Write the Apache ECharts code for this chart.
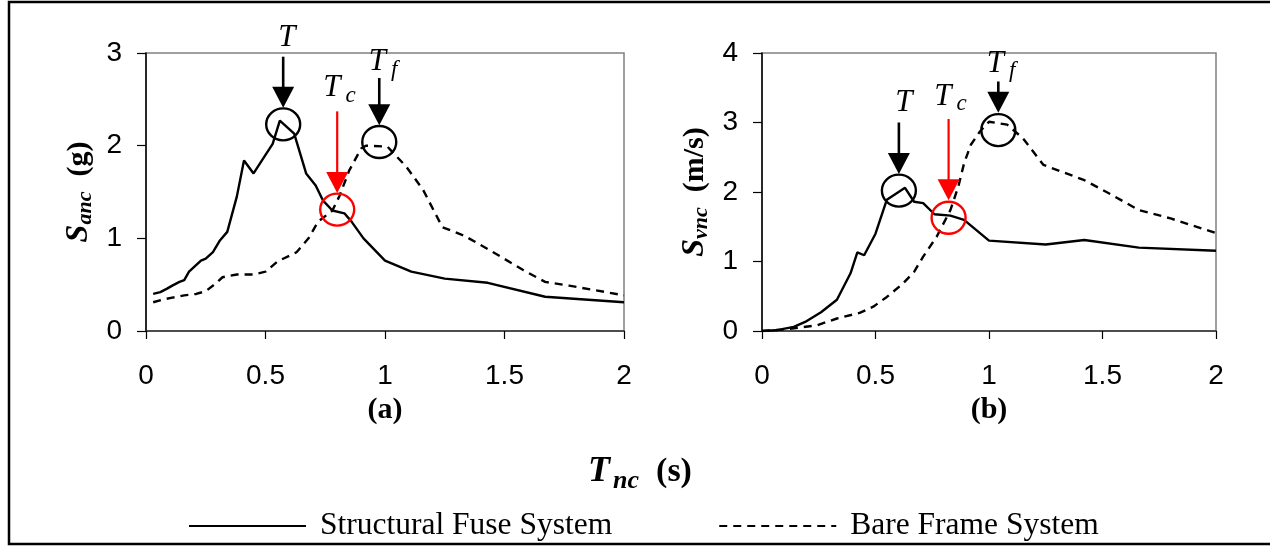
<!DOCTYPE html>
<html>
<head>
<meta charset="utf-8">
<title>Structural fuse vs bare frame spectra</title>
<script src="https://cdn.jsdelivr.net/npm/echarts@6/dist/echarts.min.js"></script>
<style>
  html, body { margin: 0; padding: 0; background: #fff; }
  #chart { width: 1270px; height: 546px; }
</style>
</head>
<body>
<div id="chart"></div>
<script>
// (a) acceleration spectrum, Sanc (g) vs Tnc (s)
var fuseAX = [0.03, 0.06, 0.09, 0.11, 0.14, 0.16, 0.18, 0.23, 0.25, 0.28, 0.31, 0.34, 0.38, 0.41, 0.45, 0.50, 0.53, 0.56, 0.62, 0.67, 0.71, 0.74, 0.78, 0.83, 0.86, 0.91, 1.00, 1.11, 1.25, 1.43, 1.67, 2.00];
var fuseAY = [0.40, 0.42, 0.46, 0.49, 0.53, 0.55, 0.64, 0.76, 0.78, 0.85, 0.98, 1.07, 1.45, 1.84, 1.70, 1.90, 2.02, 2.27, 2.13, 1.70, 1.57, 1.41, 1.30, 1.27, 1.18, 1.00, 0.76, 0.64, 0.565, 0.52, 0.37, 0.31];
var bareAX = [0.03, 0.07, 0.11, 0.16, 0.21, 0.25, 0.29, 0.32, 0.38, 0.45, 0.50, 0.55, 0.63, 0.68, 0.72, 0.78, 0.81, 0.85, 0.90, 0.92, 1.01, 1.05, 1.09, 1.16, 1.24, 1.33, 1.44, 1.58, 1.67, 1.77, 2.00];
var bareAY = [0.31, 0.34, 0.36, 0.385, 0.40, 0.43, 0.51, 0.58, 0.61, 0.61, 0.64, 0.75, 0.85, 1.00, 1.18, 1.30, 1.46, 1.73, 1.97, 2.00, 1.99, 1.88, 1.77, 1.52, 1.12, 1.03, 0.87, 0.655, 0.53, 0.49, 0.385];

// (b) velocity spectrum, Svnc (m/s) vs Tnc (s)
var fuseBX = [0, 0.06, 0.14, 0.19, 0.26, 0.33, 0.36, 0.39, 0.42, 0.45, 0.50, 0.55, 0.63, 0.67, 0.71, 0.76, 0.83, 0.89, 1.00, 1.25, 1.42, 1.66, 2.00];
var fuseBY = [0, 0.01, 0.06, 0.13, 0.27, 0.45, 0.64, 0.83, 1.13, 1.09, 1.40, 1.89, 2.06, 1.86, 1.84, 1.68, 1.66, 1.60, 1.30, 1.245, 1.31, 1.20, 1.155];
var bareBX = [0, 0.09, 0.24, 0.33, 0.43, 0.49, 0.55, 0.62, 0.67, 0.71, 0.77, 0.83, 0.865, 0.89, 0.92, 0.96, 1.00, 1.08, 1.15, 1.24, 1.42, 1.54, 1.66, 1.80, 2.00];
var bareBY = [0, 0.02, 0.08, 0.18, 0.26, 0.35, 0.49, 0.68, 0.85, 1.07, 1.36, 1.74, 2.08, 2.41, 2.68, 2.87, 3.01, 2.97, 2.77, 2.39, 2.17, 1.96, 1.74, 1.62, 1.41];

var seriesNames = ['Structural Fuse System', 'Bare Frame System'];
var xTicks = [0, 0.5, 1, 1.5, 2];

// period markers: [grid, x, arrow top y, tip y, circle y, colour]
var markers = [
  [0, 0.574, 2.96, 2.41, 2.23, '#000'],
  [0, 0.800, 2.37, 1.49, 1.31, '#ff0000'],
  [0, 0.976, 2.73, 2.22, 2.04, '#000'],
  [1, 0.603, 3.00, 2.26, 2.02, '#000'],
  [1, 0.822, 3.05, 1.88, 1.63, '#ff0000'],
  [1, 1.041, 3.59, 3.14, 2.89, '#000']
];
// marker labels: [grid, x, y, subscript]
var markLabels = [
  [0, 0.589, 3.16, ''],
  [0, 0.810, 2.62, 'c'],
  [0, 0.992, 2.90, 'f'],
  [1, 0.625, 3.28, ''],
  [1, 0.830, 3.37, 'c'],
  [1, 1.053, 3.85, 'f']
];

function pairs(xs, ys) {
  return xs.map(function (x, i) { return [x, ys[i]]; });
}

var chart = echarts.init(document.getElementById('chart'), null, { renderer: 'canvas' });

function xAxisCfg(idx, label) {
  return {
    type: 'value', gridIndex: idx, min: 0, max: 2, interval: 0.5,
    name: label, nameLocation: 'middle', nameGap: 62,
    nameTextStyle: { fontFamily: 'Liberation Serif', fontWeight: 'bold', fontSize: 30, color: '#000' },
    axisLine: { onZero: false, lineStyle: { color: '#333', width: 1.5 } },
    axisTick: { length: 8, lineStyle: { color: '#000', width: 1.2 } },
    axisLabel: {
      margin: 31, fontFamily: 'Liberation Sans', fontSize: 28, color: '#000',
      formatter: function (v) { return xTicks.indexOf(v) >= 0 ? String(v) : ''; }
    },
    splitLine: { show: false }
  };
}

function yAxisCfg(idx, max, sub, unit) {
  return {
    type: 'value', gridIndex: idx, min: 0, max: max, interval: 1,
    name: '{s|S}{b|' + sub + '}{u|  (' + unit + ')}',
    nameLocation: 'middle', nameRotate: 90, nameGap: 50,
    nameTextStyle: {
      color: '#000',
      rich: {
        s: { fontFamily: 'Liberation Serif', fontWeight: 'bold', fontStyle: 'italic', fontSize: 32, lineHeight: 34, verticalAlign: 'middle' },
        b: { fontFamily: 'Liberation Serif', fontWeight: 'bold', fontStyle: 'italic', fontSize: 22, lineHeight: 20, verticalAlign: 'bottom' },
        u: { fontFamily: 'Liberation Serif', fontWeight: 'bold', fontSize: 30, lineHeight: 34, verticalAlign: 'middle' }
      }
    },
    axisLine: { show: true, lineStyle: { color: '#000', width: 1.5 } },
    axisTick: { show: true, length: 9, lineStyle: { color: '#000', width: 1.2 } },
    axisLabel: { margin: 24, fontFamily: 'Liberation Sans', fontSize: 28, color: '#000' },
    splitLine: { show: false }
  };
}

function lineSeries(name, data, idx, dashed) {
  return {
    name: name, type: 'line', xAxisIndex: idx, yAxisIndex: idx,
    data: data, symbol: 'none', showSymbol: false, silent: true,
    lineStyle: { color: '#000', width: 2.4, type: dashed ? [8, 6] : 'solid' },
    itemStyle: { color: '#000' }
  };
}

chart.setOption({
  animation: false,
  backgroundColor: '#fff',
  grid: [
    { left: 146, top: 53, width: 478, height: 278, show: true, borderColor: '#808080', borderWidth: 1.5 },
    { left: 762, top: 53, width: 454, height: 278, show: true, borderColor: '#808080', borderWidth: 1.5 }
  ],
  xAxis: [xAxisCfg(0, '(a)'), xAxisCfg(1, '(b)')],
  yAxis: [yAxisCfg(0, 3, 'anc', 'g'), yAxisCfg(1, 4, 'vnc', 'm/s')],
  legend: {
    data: seriesNames,
    left: 183, top: 505,
    itemWidth: 117, itemHeight: 16, itemGap: 106,
    selectedMode: false,
    itemStyle: { opacity: 0 },
    lineStyle: { width: 2 },
    textStyle: { fontFamily: 'Liberation Serif', fontSize: 31.5, color: '#000', padding: [0, 0, 0, 9] }
  },
  series: [
    lineSeries(seriesNames[0], pairs(fuseAX, fuseAY), 0, false),
    lineSeries(seriesNames[1], pairs(bareAX, bareAY), 0, true),
    lineSeries(seriesNames[0], pairs(fuseBX, fuseBY), 1, false),
    lineSeries(seriesNames[1], pairs(bareBX, bareBY), 1, true)
  ]
});

// annotations placed through the axes' own scales
var g = [];
g.push({
  type: 'rect', id: 'frame', silent: true,
  shape: { x: 9, y: 2, width: 1300, height: 542 },
  style: { fill: null, stroke: '#000', lineWidth: 2.5 }
});
g.push({
  type: 'text', id: 'xtitle', silent: true,
  x: 640, y: 472,
  style: {
    text: '{t|T}{n|nc}{u|  (s)}', align: 'center', verticalAlign: 'middle',
    rich: {
      t: { fontFamily: 'Liberation Serif', fontWeight: 'bold', fontStyle: 'italic', fontSize: 36, lineHeight: 44, verticalAlign: 'middle' },
      n: { fontFamily: 'Liberation Serif', fontWeight: 'bold', fontStyle: 'italic', fontSize: 26, lineHeight: 14, verticalAlign: 'bottom', padding: [0, 0, 0, 3] },
      u: { fontFamily: 'Liberation Serif', fontWeight: 'bold', fontSize: 34, lineHeight: 44, verticalAlign: 'middle' }
    }
  }
});

markers.forEach(function (m, i) {
  var top = chart.convertToPixel({ gridIndex: m[0] }, [m[1], m[2]]);
  var tip = chart.convertToPixel({ gridIndex: m[0] }, [m[1], m[3]]);
  var ctr = chart.convertToPixel({ gridIndex: m[0] }, [m[1], m[4]]);
  var headH = 21, headW = 11;
  g.push({
    type: 'line', id: 'shaft' + i, silent: true, z: 10,
    shape: { x1: top[0], y1: top[1], x2: tip[0], y2: tip[1] - headH + 2 },
    style: { stroke: m[5], lineWidth: m[5] === '#000' ? 2.6 : 2.2 }
  });
  g.push({
    type: 'polygon', id: 'head' + i, silent: true, z: 10,
    shape: { points: [[tip[0] - headW, tip[1] - headH], [tip[0] + headW, tip[1] - headH], [tip[0], tip[1]]] },
    style: { fill: m[5] }
  });
  g.push({
    type: 'ellipse', id: 'ring' + i, silent: true, z: 10,
    shape: { cx: ctr[0], cy: ctr[1], rx: 17, ry: 16 },
    style: { fill: null, stroke: m[5], lineWidth: 2.4 }
  });
});

markLabels.forEach(function (l, i) {
  var p = chart.convertToPixel({ gridIndex: l[0] }, [l[1], l[2]]);
  g.push({
    type: 'text', id: 'lab' + i, silent: true, z: 10,
    x: p[0], y: p[1],
    style: {
      text: l[3] ? '{m|T}{s|' + l[3] + '}' : '{m|T}',
      align: 'center', verticalAlign: 'middle',
      rich: {
        m: { fontFamily: 'Liberation Serif', fontStyle: 'italic', fontSize: 31, lineHeight: 38, verticalAlign: 'middle', fill: '#000' },
        s: { fontFamily: 'Liberation Serif', fontStyle: 'italic', fontSize: 23, lineHeight: 10, verticalAlign: 'bottom', padding: [0, 0, 0, 5], fill: '#000' }
      }
    }
  });
});

chart.setOption({ graphic: g });
</script>
</body>
</html>
